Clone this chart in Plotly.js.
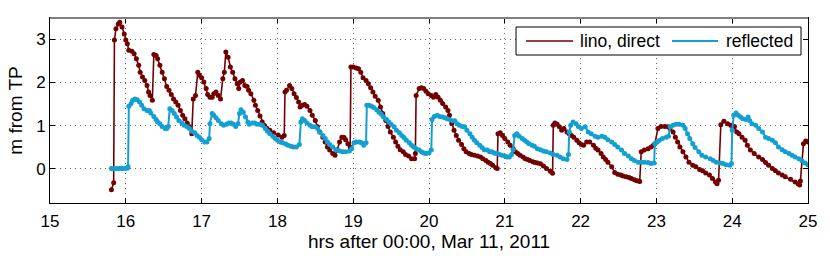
<!DOCTYPE html>
<html>
<head>
<meta charset="utf-8">
<script src="https://cdn.plot.ly/plotly-3.0.1.min.js"></script>
<style>html,body{margin:0;padding:0;background:#fff;}#chart{width:830px;height:256px;}</style>
</head>
<body>
<div id="chart"></div>
<script>
const seriesNames = ["lino, direct", "reflected"];
const xTickVals = [15,16,17,18,19,20,21,22,23,24,25];
const yTickVals = [0,1,2,3];

const directX = [15.81,15.84,15.85,15.87,15.90,15.92,15.95,15.98,16.00,16.02,16.04,16.08,16.11,16.14,16.17,16.19,16.22,16.25,16.28,16.30,16.32,16.35,16.37,16.40,16.42,16.45,16.48,16.51,16.54,16.57,16.60,16.63,16.66,16.69,16.72,16.75,16.78,16.81,16.84,16.87,16.89,16.92,16.95,16.97,17.00,17.03,17.06,17.08,17.11,17.14,17.16,17.19,17.22,17.25,17.28,17.30,17.32,17.35,17.38,17.41,17.44,17.47,17.49,17.51,17.54,17.57,17.60,17.62,17.65,17.69,17.71,17.74,17.77,17.80,17.83,17.86,17.90,17.95,18.01,18.06,18.09,18.10,18.12,18.16,18.19,18.22,18.25,18.28,18.30,18.33,18.36,18.39,18.43,18.46,18.50,18.53,18.56,18.60,18.63,18.66,18.69,18.73,18.76,18.79,18.82,18.85,18.88,18.90,18.93,18.96,18.97,19.00,19.04,19.07,19.10,19.13,19.17,19.20,19.23,19.26,19.29,19.33,19.36,19.39,19.43,19.46,19.49,19.53,19.56,19.59,19.62,19.66,19.69,19.73,19.77,19.81,19.82,19.83,19.87,19.90,19.93,19.96,19.99,20.03,20.06,20.09,20.12,20.15,20.18,20.22,20.25,20.27,20.30,20.33,20.36,20.39,20.43,20.46,20.49,20.53,20.56,20.60,20.64,20.68,20.71,20.75,20.78,20.81,20.84,20.88,20.90,20.91,20.94,20.97,21.00,21.04,21.07,21.11,21.14,21.17,21.20,21.24,21.27,21.30,21.33,21.37,21.40,21.43,21.47,21.51,21.55,21.60,21.63,21.64,21.66,21.69,21.72,21.75,21.78,21.82,21.85,21.88,21.91,21.95,21.98,22.01,22.04,22.08,22.12,22.17,22.20,22.23,22.27,22.30,22.33,22.36,22.41,22.45,22.49,22.53,22.56,22.60,22.64,22.67,22.71,22.74,22.77,22.78,22.80,22.84,22.89,22.93,22.96,22.98,23.02,23.06,23.11,23.15,23.18,23.22,23.25,23.28,23.31,23.35,23.39,23.43,23.48,23.52,23.57,23.61,23.65,23.70,23.74,23.78,23.80,23.82,23.85,23.89,23.94,23.98,24.01,24.03,24.06,24.09,24.13,24.17,24.20,24.24,24.29,24.35,24.40,24.44,24.48,24.53,24.57,24.61,24.66,24.70,24.77,24.83,24.87,24.89,24.90,24.94,24.97,25.00];
const directY = [-0.49,-0.33,2.99,3.25,3.36,3.40,3.29,3.13,2.99,2.90,2.75,2.73,2.67,2.55,2.40,2.24,2.13,2.05,1.93,1.78,1.70,1.59,2.65,2.63,2.55,2.40,2.24,2.09,1.91,1.82,1.72,1.62,1.55,1.47,1.35,1.24,1.16,1.06,0.97,0.81,1.62,1.70,2.24,2.17,2.11,2.01,1.86,1.72,1.66,1.66,1.74,1.78,1.70,1.62,2.09,2.24,2.71,2.59,2.36,2.24,2.09,1.97,1.86,2.01,2.05,1.93,1.91,1.82,1.74,1.59,1.47,1.35,1.22,1.08,1.00,0.94,0.89,0.83,0.78,0.73,0.77,1.78,1.82,1.93,1.86,1.74,1.65,1.55,1.43,1.47,1.49,1.45,1.35,1.24,1.12,0.97,0.85,0.73,0.62,0.50,0.43,0.35,0.31,0.43,0.62,0.73,0.72,0.67,0.58,0.50,2.36,2.36,2.34,2.32,2.24,2.11,2.05,1.97,1.88,1.78,1.68,1.59,1.43,1.28,1.12,0.98,0.85,0.73,0.62,0.52,0.44,0.39,0.33,0.29,0.23,0.23,0.35,1.70,1.86,1.88,1.86,1.80,1.74,1.70,1.66,1.72,1.66,1.59,1.51,1.43,1.35,1.24,1.05,0.89,0.77,0.66,0.56,0.46,0.39,0.35,0.33,0.31,0.29,0.27,0.23,0.19,0.15,0.12,0.08,0.02,0.00,0.81,0.83,0.77,0.70,0.62,0.54,0.46,0.39,0.35,0.31,0.27,0.23,0.21,0.19,0.16,0.14,0.13,0.11,0.06,0.00,-0.06,-0.11,1.01,1.06,1.03,0.97,0.89,0.93,0.85,0.81,0.77,0.73,0.66,0.60,0.56,0.54,0.62,0.62,0.54,0.47,0.43,0.35,0.27,0.21,0.15,0.04,-0.09,-0.13,-0.15,-0.17,-0.19,-0.21,-0.23,-0.26,-0.28,-0.29,-0.30,0.39,0.43,0.46,0.50,0.54,0.58,0.93,0.98,0.98,0.97,0.93,0.85,0.73,0.62,0.50,0.39,0.27,0.15,0.08,0.04,-0.02,-0.05,-0.10,-0.15,-0.23,-0.31,-0.35,-0.27,1.02,1.10,1.04,1.01,0.93,0.98,0.85,0.81,0.73,0.66,0.54,0.43,0.35,0.27,0.21,0.14,0.08,0.00,-0.05,-0.10,-0.15,-0.19,-0.25,-0.31,-0.35,-0.38,-0.29,0.58,0.64,0.62,0.62];

const reflX = [15.81,15.84,15.87,15.90,15.93,15.96,15.99,16.02,16.03,16.04,16.07,16.09,16.12,16.15,16.18,16.21,16.24,16.28,16.31,16.33,16.37,16.40,16.42,16.45,16.48,16.52,16.54,16.56,16.58,16.61,16.64,16.67,16.70,16.74,16.77,16.81,16.84,16.87,16.91,16.94,16.97,17.00,17.04,17.07,17.10,17.11,17.14,17.16,17.19,17.22,17.26,17.29,17.33,17.36,17.39,17.42,17.45,17.48,17.50,17.52,17.55,17.58,17.61,17.63,17.67,17.70,17.73,17.77,17.80,17.84,17.87,17.90,17.94,17.97,18.00,18.04,18.07,18.11,18.14,18.18,18.21,18.25,18.29,18.31,18.33,18.36,18.39,18.43,18.46,18.50,18.53,18.56,18.60,18.63,18.66,18.69,18.73,18.77,18.80,18.82,18.86,18.90,18.95,18.98,19.01,19.04,19.08,19.11,19.14,19.17,19.18,19.21,19.24,19.27,19.31,19.34,19.37,19.40,19.44,19.47,19.50,19.54,19.57,19.61,19.64,19.67,19.70,19.74,19.77,19.80,19.83,19.87,19.90,19.93,19.96,20.00,20.03,20.04,20.07,20.11,20.14,20.18,20.21,20.24,20.27,20.31,20.34,20.37,20.40,20.44,20.47,20.50,20.54,20.57,20.60,20.63,20.67,20.70,20.73,20.77,20.80,20.83,20.86,20.89,20.93,20.96,21.00,21.03,21.06,21.09,21.11,21.13,21.16,21.19,21.23,21.26,21.29,21.32,21.36,21.39,21.43,21.47,21.51,21.55,21.60,21.64,21.69,21.73,21.77,21.82,21.84,21.85,21.87,21.90,21.94,21.97,22.01,22.06,22.10,22.14,22.19,22.23,22.28,22.32,22.36,22.41,22.45,22.49,22.54,22.58,22.63,22.67,22.71,22.76,22.80,22.84,22.89,22.93,22.97,22.98,23.01,23.04,23.08,23.13,23.16,23.18,23.22,23.26,23.30,23.35,23.38,23.41,23.44,23.48,23.51,23.56,23.60,23.65,23.71,23.75,23.79,23.84,23.88,23.92,23.97,23.99,24.00,24.02,24.05,24.08,24.11,24.14,24.18,24.21,24.23,24.26,24.31,24.35,24.40,24.44,24.48,24.53,24.57,24.61,24.66,24.70,24.75,24.79,24.83,24.88,24.92,24.96,25.00];
const reflY = [0.00,0.00,0.00,0.00,0.00,0.00,0.00,0.01,0.04,1.45,1.51,1.59,1.62,1.60,1.55,1.47,1.39,1.35,1.35,1.29,1.21,1.14,1.08,1.04,0.98,0.93,0.93,0.98,1.39,1.35,1.28,1.20,1.12,1.06,1.01,0.97,0.93,0.87,0.83,0.77,0.73,0.67,0.62,0.62,0.70,1.04,1.28,1.24,1.18,1.12,1.04,1.01,1.03,1.06,1.06,1.03,0.98,1.04,1.28,1.37,1.31,1.20,1.08,1.03,1.06,1.06,1.03,1.03,1.01,0.93,0.87,0.81,0.75,0.70,0.66,0.62,0.60,0.57,0.54,0.52,0.50,0.50,0.56,1.08,1.16,1.12,1.06,1.01,0.97,0.97,0.93,0.85,0.77,0.70,0.62,0.56,0.50,0.44,0.42,0.41,0.39,0.39,0.41,0.46,0.60,0.62,0.62,0.60,0.54,0.60,1.47,1.47,1.45,1.42,1.37,1.31,1.26,1.20,1.14,1.08,1.03,0.97,0.89,0.83,0.77,0.72,0.66,0.60,0.54,0.50,0.46,0.43,0.39,0.36,0.35,0.36,0.43,1.14,1.21,1.24,1.21,1.20,1.18,1.16,1.14,1.11,1.11,1.04,1.01,0.98,0.97,0.89,0.81,0.73,0.66,0.60,0.54,0.49,0.44,0.43,0.39,0.39,0.36,0.35,0.33,0.31,0.29,0.27,0.27,0.33,0.44,0.77,0.81,0.75,0.70,0.66,0.62,0.58,0.54,0.52,0.46,0.44,0.41,0.39,0.36,0.33,0.31,0.27,0.23,0.21,0.33,0.85,1.01,1.08,1.04,0.98,0.93,0.97,0.85,0.81,0.75,0.73,0.75,0.73,0.67,0.62,0.56,0.50,0.43,0.35,0.29,0.23,0.19,0.15,0.15,0.15,0.14,0.12,0.13,0.58,0.62,0.66,0.70,0.73,0.75,0.97,1.01,1.03,1.03,1.01,0.93,0.81,0.70,0.58,0.49,0.39,0.31,0.27,0.23,0.19,0.15,0.13,0.12,0.09,0.08,0.12,0.89,1.24,1.29,1.24,1.20,1.16,1.14,1.20,1.12,1.04,1.01,0.93,0.85,0.73,0.70,0.66,0.60,0.50,0.44,0.39,0.35,0.31,0.27,0.23,0.18,0.13,0.09];

const directColor = '#720000';
const reflColor = '#12A0D2';
const FONT = 'Liberation Sans, Arial, Helvetica, sans-serif';

const traces = [
  {x: directX, y: directY, mode: 'lines+markers', name: seriesNames[0], showlegend: false,
   line: {color: directColor, width: 1.6}, marker: {color: directColor, size: 5}},
  {x: reflX, y: reflY, mode: 'lines+markers', name: seriesNames[1], showlegend: false,
   line: {color: reflColor, width: 2}, marker: {color: reflColor, size: 5}}
];

const axisCommon = {
  showline: true, linecolor: '#000', linewidth: 1, mirror: 'ticks',
  ticks: 'inside', ticklen: 5, tickcolor: '#000',
  showgrid: true, gridcolor: '#666', griddash: '1px,4px', gridwidth: 1,
  zeroline: false, tickfont: {family: FONT, size: 17, color: '#000'}
};

// Legend box drawn as layout decoration (paper coordinates of the plot area)
const legendRow = 0.876;
const shapes = [
  {type: 'line', xref: 'paper', yref: 'paper', x0: 0, x1: 1, y0: 1, y1: 1,
   line: {color: '#808080', width: 2}, layer: 'above'},
  {type: 'rect', xref: 'paper', yref: 'paper', x0: 0.6148, x1: 0.9908, y0: 0.800, y1: 0.9514,
   line: {color: '#000', width: 1}, fillcolor: '#fff', layer: 'above'},
  {type: 'line', xref: 'paper', yref: 'paper', x0: 0.6280, x1: 0.6900, y0: legendRow, y1: legendRow,
   line: {color: directColor, width: 1.6}, layer: 'above'},
  {type: 'line', xref: 'paper', yref: 'paper', x0: 0.8206, x1: 0.8813, y0: legendRow, y1: legendRow,
   line: {color: reflColor, width: 2}, layer: 'above'}
];
const annotations = [
  {xref: 'paper', yref: 'paper', x: 0.6960, y: legendRow, xanchor: 'left', yanchor: 'middle',
   text: seriesNames[0], showarrow: false, font: {family: FONT, size: 17.5, color: '#000'}},
  {xref: 'paper', yref: 'paper', x: 0.8886, y: legendRow, xanchor: 'left', yanchor: 'middle',
   text: seriesNames[1], showarrow: false, font: {family: FONT, size: 17.5, color: '#000'}}
];

const layout = {
  width: 830, height: 256,
  margin: {l: 50, r: 22, t: 18, b: 53},
  paper_bgcolor: '#fff', plot_bgcolor: '#fff',
  font: {family: FONT, color: '#000'},
  showlegend: false,
  xaxis: Object.assign({}, axisCommon, {
    range: [15, 25], tickvals: xTickVals, ticktext: xTickVals.map(String),
    ticklabelstandoff: 3,
    title: {text: 'hrs after 00:00, Mar 11, 2011', font: {family: FONT, size: 19, color: '#000'}, standoff: 2}
  }),
  yaxis: Object.assign({}, axisCommon, {
    range: [-0.8, 3.5], tickvals: yTickVals, ticktext: yTickVals.map(String),
    title: {text: 'm from TP', font: {family: FONT, size: 19, color: '#000'}, standoff: 8}
  }),
  shapes: shapes,
  annotations: annotations
};

Plotly.newPlot('chart', traces, layout, {staticPlot: true, displayModeBar: false});
</script>
</body>
</html>
